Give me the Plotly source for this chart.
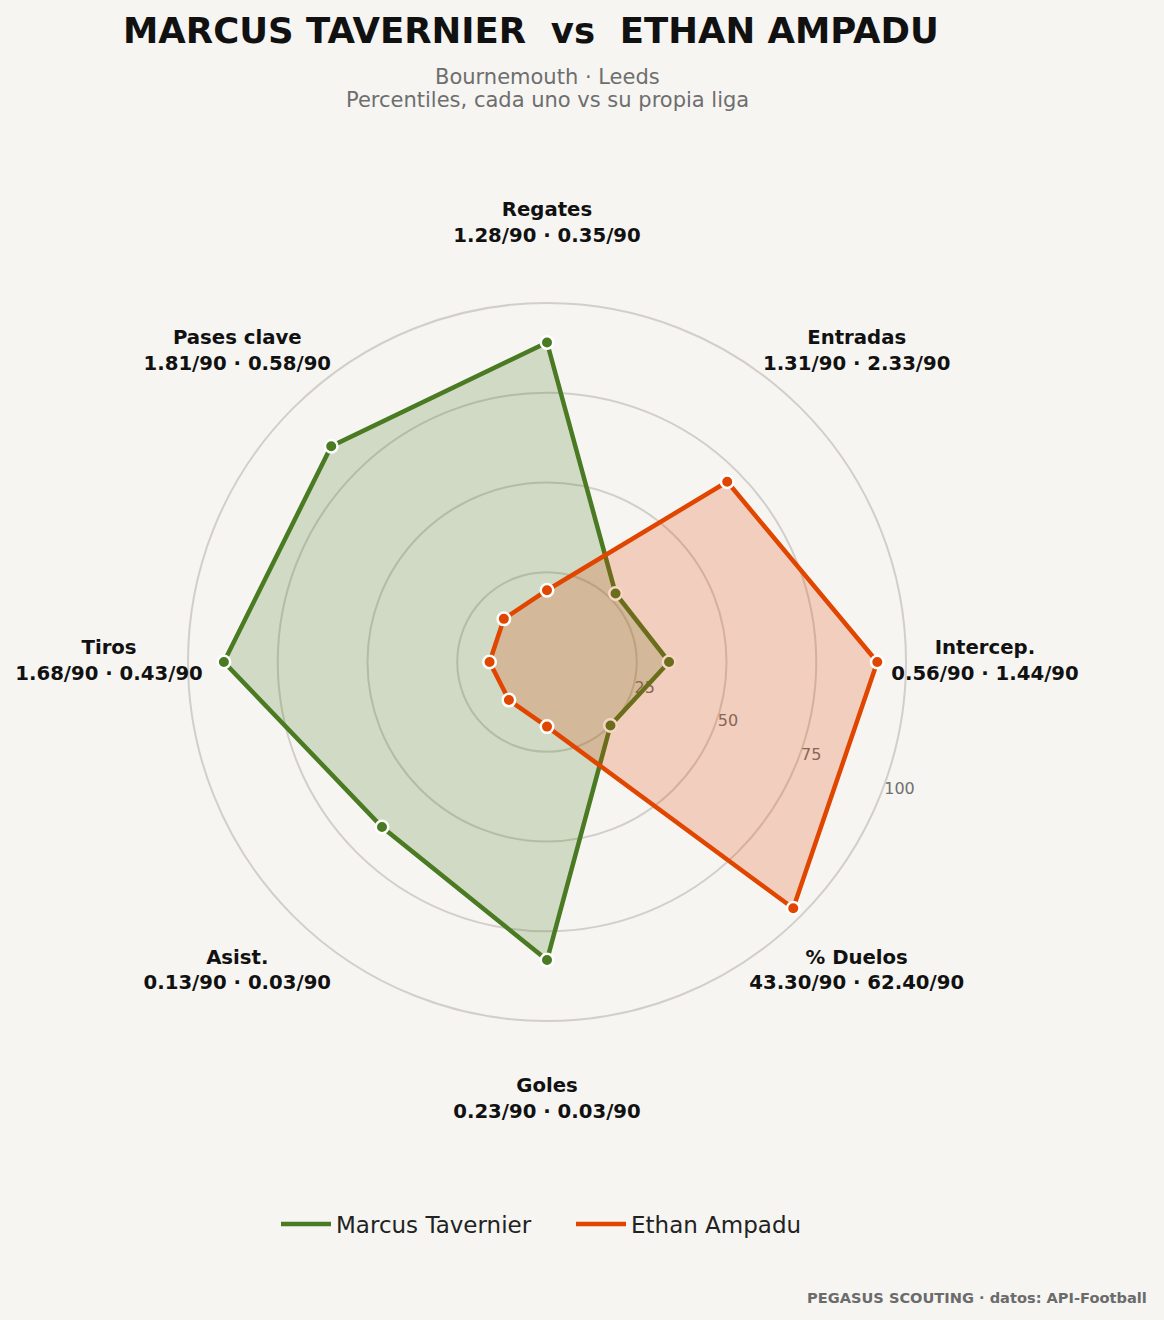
import plotly.graph_objects as go

# radar data (percentiles)
categories = ["Regates", "Entradas", "Intercep.", "% Duelos", "Goles", "Asist.", "Tiros", "Pases clave"]
per90_tavernier = ["1.28", "1.31", "0.56", "43.30", "0.23", "0.13", "1.68", "1.81"]
per90_ampadu = ["0.35", "2.33", "1.44", "62.40", "0.03", "0.03", "0.43", "0.58"]
pct_tavernier = [89, 27, 34, 25, 83, 65, 90, 85]
pct_ampadu = [20, 71, 92, 97, 18, 15, 16, 17]
radial_ticks = [25, 50, 75, 100]

players = [
    ("Marcus Tavernier", pct_tavernier, "#4a7a22", "rgba(74,122,34,0.22)"),
    ("Ethan Ampadu", pct_ampadu, "#e04600", "rgba(224,70,0,0.22)"),
]

BG = "#f6f5f2"
FONT = "DejaVu Sans"
W, H = 1164, 1320
CX, CY, R = 547, 662, 359   # centre / radius of the 100 ring, px
RMAX = 122                  # radius where the category labels sit
RP = R * RMAX / 100         # px radius of the polar domain

fig = go.Figure()

theta_closed = categories + categories[:1]
for name, vals, col, fcol in players:
    r_closed = vals + vals[:1]
    fig.add_trace(go.Scatterpolar(r=r_closed, theta=theta_closed, mode="lines",
                                  fill="toself", fillcolor=fcol, line=dict(width=0),
                                  showlegend=False, hoverinfo="skip"))
    fig.add_trace(go.Scatterpolar(r=r_closed, theta=theta_closed, mode="lines",
                                  line=dict(color=col, width=4.5), name=name))
    fig.add_trace(go.Scatterpolar(r=vals, theta=categories, mode="markers",
                                  marker=dict(color=col, size=12.5, line=dict(color="white", width=2.5)),
                                  showlegend=False, name=name))

# category labels outside the 100 ring
labels = ["<b>%s</b><br><b>%s/90 · %s/90</b>" % (c, a, b)
          for c, a, b in zip(categories, per90_tavernier, per90_ampadu)]
fig.add_trace(go.Scatterpolar(r=[RMAX] * len(categories), theta=categories, mode="text",
                              text=labels, textposition="middle center", cliponaxis=False,
                              textfont=dict(family=FONT, size=19.7, color="#111111"),
                              showlegend=False, hoverinfo="skip"))

fig.update_layout(
    width=W, height=H,
    paper_bgcolor=BG, plot_bgcolor=BG,
    margin=dict(l=0, r=0, t=0, b=0),
    font=dict(family=FONT),
    polar=dict(
        domain=dict(x=[(CX - RP) / W, (CX + RP) / W], y=[(H - CY - RP) / H, (H - CY + RP) / H]),
        bgcolor=BG,
        radialaxis=dict(range=[0, RMAX], tickvals=radial_ticks, angle=-22, side="counterclockwise",
                        tickangle=-22, showline=False, ticks="", gridcolor="#d2cfca", gridwidth=1.5,
                        tickfont=dict(family=FONT, size=16, color="#707070"), layer="below traces"),
        angularaxis=dict(direction="clockwise", rotation=90, showticklabels=False, ticks="",
                         showgrid=False, showline=False, layer="below traces"),
    ),
    legend=dict(orientation="h", x=571 / W, xanchor="center", y=(H - 1224) / H, yanchor="middle",
                font=dict(family=FONT, size=23, color="#222222"), bgcolor="rgba(0,0,0,0)",
                itemwidth=50, entrywidth=230),
)

fig.add_annotation(text="<b>MARCUS TAVERNIER\u00a0\u00a0vs\u00a0\u00a0ETHAN AMPADU</b>",
                   x=531 / W, y=1 - 31 / H, xref="paper", yref="paper", showarrow=False,
                   xanchor="center", yanchor="middle",
                   font=dict(family=FONT, size=35.5, color="#111111"))
fig.add_annotation(text="Bournemouth · Leeds",
                   x=CX / W, y=1 - 77 / H, xref="paper", yref="paper", showarrow=False,
                   xanchor="center", yanchor="middle",
                   font=dict(family=FONT, size=21, color="#6e6e6e"))
fig.add_annotation(text="Percentiles, cada uno vs su propia liga",
                   x=CX / W, y=1 - 100 / H, xref="paper", yref="paper", showarrow=False,
                   xanchor="center", yanchor="middle",
                   font=dict(family=FONT, size=21, color="#6e6e6e"))
fig.add_annotation(text="<b>PEGASUS SCOUTING · datos: API-Football</b>",
                   x=1149 / W, y=1 - 1297 / H, xref="paper", yref="paper", showarrow=False,
                   xanchor="right", yanchor="middle",
                   font=dict(family=FONT, size=14.6, color="#6b6b6b"))

fig.write_html("out.html", config={"displayModeBar": False},
               post_script="document.body.style.margin='0';document.body.style.background='%s';" % BG)
